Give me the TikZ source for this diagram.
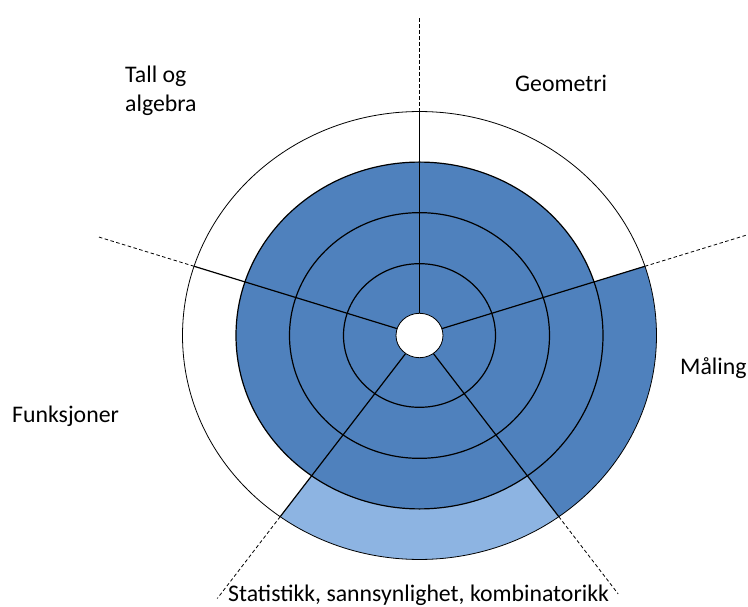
\documentclass[tikz,border=0pt]{standalone}
\usepackage{fontspec}
\setmainfont{Carlito}
\definecolor{ringblue}{HTML}{4F81BD}
\definecolor{paleblue}{HTML}{8DB4E2}
\begin{document}
\begin{tikzpicture}[x=1pt,y=1pt,
  ringline/.style={draw=black, line width=1.2pt},
  rimline/.style={draw=black, line width=0.8pt},
  spoke/.style={draw=black, line width=1.2pt},
  guide/.style={draw=black, line width=0.8pt, dash pattern=on 3.5pt off 2.5pt},
  areatext/.style={font=\fontsize{23.8}{29}\selectfont, inner sep=0pt}]
\useasboundingbox (0,0) rectangle (748,606);
\begin{scope}[shift={(419.5,270.5)}, yscale=0.945]
  % sector that reaches the outer rim
  \fill[ringblue] (0,0) -- (-54:237) arc[start angle=-54, end angle=18, radius=237] -- cycle;
  % pale outer band of the lower sector
  \fill[paleblue] (234:183.5) arc[start angle=234, end angle=306, radius=183.5]
    -- (306:237) arc[start angle=306, end angle=234, radius=237] -- cycle;
  % filled inner disc
  \fill[ringblue] (0,0) circle[radius=183.5];
  % rings
  \draw[rimline] (0,0) circle[radius=237];
  \foreach \r in {76,130,183.5}
    \draw[ringline] (0,0) circle[radius=\r];
  % spokes and their dashed continuations
  \foreach \a/\e in {90/336, 18/346, 162/338, 234/344, 306/338} {
    \draw[spoke] (\a:23.5) -- (\a:237);
    \draw[guide] (\a:237) -- (\a:\e);
  }
  % central hole
  \draw[rimline, fill=white] (0,0) circle[radius=23.5];
\end{scope}
% area names
\node[areatext, anchor=base west, align=left] (tall) at (125,494) {Tall og\\algebra};
\node[areatext, anchor=base west] (geo) at (515,514) {Geometri};
\node[areatext, anchor=base west] (maal) at (680,231) {Måling};
\node[areatext, anchor=base west] (funk) at (12,183) {Funksjoner};
\node[areatext, anchor=base west] (stat) at (228,5) {Statistikk, sannsynlighet, kombinatorikk};
\end{tikzpicture}
\end{document}
